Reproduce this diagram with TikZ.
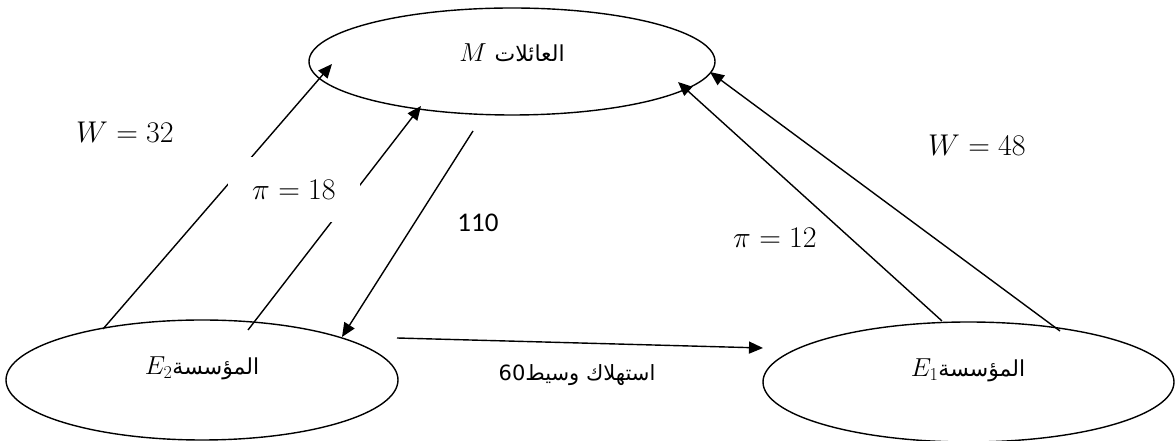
\RequirePackage{fix-cm}
\documentclass[tikz,border=0pt]{standalone}
\usepackage{fontspec}
\usetikzlibrary{shapes.geometric,arrows.meta}
\newfontfamily\arabicfont[Script=Arabic]{DejaVu Sans}
\newfontfamily\numfont{Carlito}
\TeXXeTstate=1

\begin{document}
\begin{tikzpicture}[x=1pt,y=1pt,
  sector/.style={draw, line width=1.4pt, ellipse, inner sep=0pt, outer sep=0pt},
  flow/.style={line width=1.4pt, -{Triangle[length=14pt,width=12pt]}},
  mathlbl/.style={font=\fontsize{30}{36}\selectfont, inner sep=0pt},
  arlbl/.style={font=\fontsize{22}{28}\selectfont, inner sep=0pt}]

\useasboundingbox (0,0) rectangle (1176,441);

% sectors
\node[sector, minimum width=406pt, minimum height=107pt] (M)  at (512,379.5) {};
\node[sector, minimum width=392pt, minimum height=120pt] (E2) at (202,61) {};
\node[sector, minimum width=411pt, minimum height=120pt] (E1) at (968.5,59) {};

% sector names
\node[arlbl] (Mlbl)  at (512,388) {\fontsize{26}{32}\selectfont$M$\ {\arabicfont\fontsize{22}{28}\selectfont\beginR العائلات\endR}};
\node[arlbl] (E2lbl) at (202,73) {\fontsize{26}{32}\selectfont$E_2${\arabicfont\fontsize{22}{28}\selectfont\beginR المؤسسة\endR}};
\node[arlbl] (E1lbl) at (968,71) {\fontsize{26}{32}\selectfont$E_1${\arabicfont\fontsize{22}{28}\selectfont\beginR المؤسسة\endR}};

% flows
\draw[flow] ([shift={(-99pt,51pt)}]E2.center) -- ([shift={(-180pt,-2.5pt)}]M.center);
\draw[flow] ([shift={(46pt,50pt)}]E2.center) -- ([shift={(-91pt,-44.5pt)}]M.center);
\draw[flow] ([shift={(-39pt,-69.5pt)}]M.center) -- ([shift={(140pt,43pt)}]E2.center);
\draw[flow] ([shift={(195pt,42pt)}]E2.center) -- ([shift={(-205.5pt,34pt)}]E1.center);
\draw[flow] ([shift={(-26.5pt,61pt)}]E1.center) -- ([shift={(166pt,-20.5pt)}]M.center);
\draw[flow] ([shift={(91.5pt,51pt)}]E1.center) -- ([shift={(198pt,-10.5pt)}]M.center);

% flow values
\node[mathlbl] (w32) at (125,309) {$W=32$};
\node[mathlbl, fill=white, minimum width=132pt, minimum height=65pt] (p18) at (294,251.5) {$\pi=18$};
\node[font=\numfont\fontsize{27}{32}\selectfont, inner sep=0pt] (v110) at (478,218) {110};
\node[mathlbl] (p12) at (775,203) {$\pi=12$};
\node[mathlbl] (w48) at (977,296) {$W=48$};
\node[font=\arabicfont\fontsize{21}{26}\selectfont, inner sep=0pt] (v60) at (577,66) {60\beginR استهلاك وسيط\endR};

\end{tikzpicture}
\end{document}
